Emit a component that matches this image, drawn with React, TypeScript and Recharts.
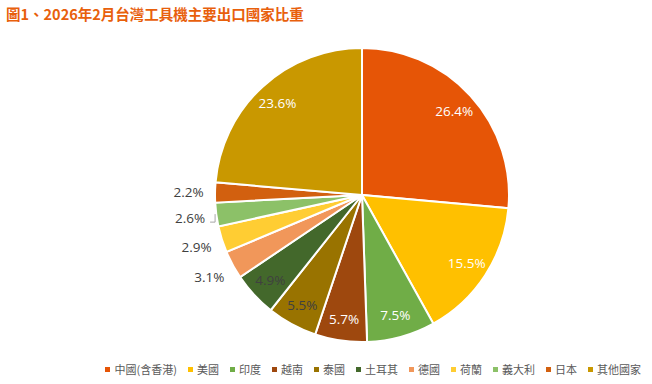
import React from 'react';
import { PieChart, Pie, Cell, Legend } from 'recharts';

const title = '圖1、2026年2月台灣工具機主要出口國家比重';
const categories = ['中國(含香港)', '美國', '印度', '越南', '泰國', '土耳其', '德國', '荷蘭', '義大利', '日本', '其他國家'];
const shares = [26.4, 15.5, 7.5, 5.7, 5.5, 4.9, 3.1, 2.9, 2.6, 2.2, 23.6];
const colors = ['#E65506', '#FFC000', '#70AD47', '#9E480E', '#997300', '#43682B', '#F1975A', '#FFCD33', '#8CC168', '#D2600F', '#C99800'];
const darkLabelCats = ['泰國', '土耳其'];
const leaderCats = ['義大利'];

const data = categories.map((name, i) => ({ name, value: shares[i] }));

const RAD = Math.PI / 180;
const FONT = '"Open Sans", "Noto Sans", "Noto Sans CJK TC", sans-serif';

const renderLabel = (props: any) => {
  const { cx, cy, midAngle, outerRadius, value, index } = props;
  const name = categories[index];
  const inside = value >= 4;
  const r = inside ? outerRadius * 0.85 : outerRadius * 1.18;
  const x = cx + r * Math.cos(-midAngle * RAD);
  const y = cy + r * Math.sin(-midAngle * RAD);
  const fill = inside && !darkLabelCats.includes(name) ? '#FFFFFF' : '#404040';
  const text = `${value.toFixed(1)}%`;
  return (
    <g key={`lbl-${index}`}>
      <text x={x} y={y} fill={fill} fontSize={13.5} fontFamily={FONT} textAnchor="middle" dominantBaseline="central">
        {text}
      </text>
      {leaderCats.includes(name) && (
        <polyline
          points={`${x + 20},${y + 4} ${x + 25},${y + 4} ${x + 25},${y - 4}`}
          fill="none"
          stroke="#A6A6A6"
          strokeWidth={1}
        />
      )}
    </g>
  );
};

const renderLegend = () => (
  <div
    style={{
      display: 'flex',
      flexWrap: 'nowrap',
      justifyContent: 'flex-end',
      alignItems: 'center',
      fontFamily: '"Noto Sans CJK TC", sans-serif',
      fontSize: 11,
      color: '#595959',
      whiteSpace: 'nowrap',
    }}
  >
    {categories.map((c, i) => (
      <span key={c} style={{ display: 'inline-flex', alignItems: 'center', marginRight: i === categories.length - 1 ? 0 : 10.5 }}>
        <span style={{ display: 'inline-block', width: 5, height: 5, background: colors[i], marginRight: 4.5 }} />
        {c}
      </span>
    ))}
  </div>
);

export default function App() {
  return (
    <div style={{ position: 'absolute', left: 0, top: 0, width: 652, height: 384, background: '#fff' }}>
      <div
        style={{
          position: 'absolute',
          left: 6,
          top: 3,
          fontFamily: '"Noto Sans CJK TC", sans-serif',
          fontWeight: 700,
          fontSize: 14.5,
          color: '#E8600C',
          whiteSpace: 'nowrap',
        }}
      >
        {title}
      </div>
      <PieChart width={652} height={384} margin={{ top: 0, right: 0, bottom: 0, left: 0 }}>
        <Pie
          data={data}
          dataKey="value"
          nameKey="name"
          cx={362}
          cy={195}
          outerRadius={147}
          startAngle={90}
          endAngle={-270}
          stroke="#FFFFFF"
          strokeWidth={2}
          label={renderLabel}
          labelLine={false}
          isAnimationActive={false}
        >
          {data.map((d, i) => (
            <Cell key={d.name} fill={colors[i]} />
          ))}
        </Pie>
        <Legend
          content={renderLegend}
          wrapperStyle={{ position: 'absolute', left: 0, width: 641, top: 361, bottom: 'auto' }}
        />
      </PieChart>
    </div>
  );
}
